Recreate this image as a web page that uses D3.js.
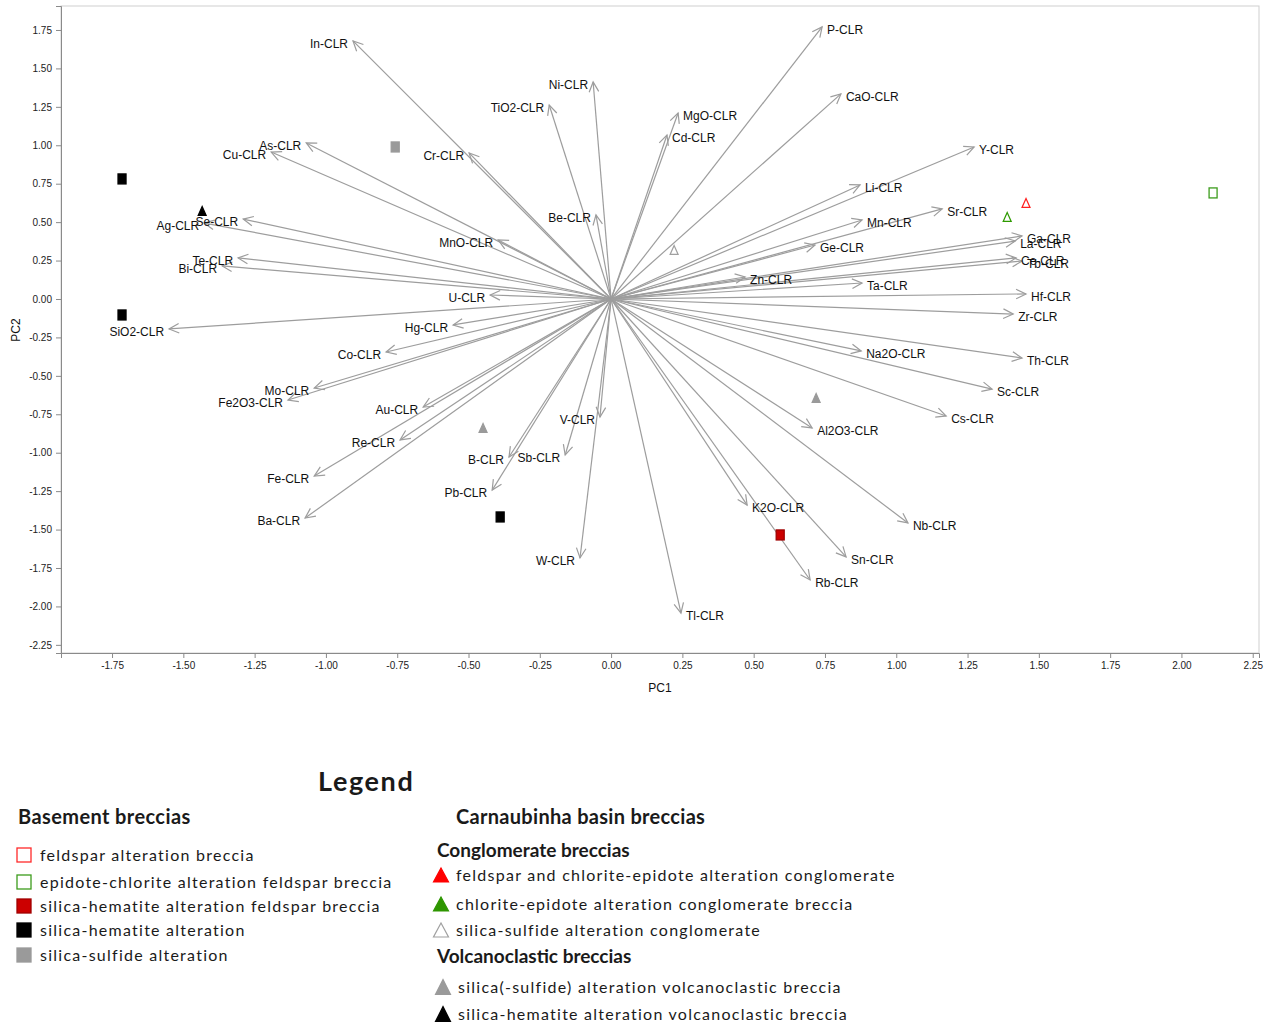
<!DOCTYPE html>
<html>
<head>
<meta charset="utf-8">
<script src="https://cdn.jsdelivr.net/npm/d3@7"></script>
<style>
  body { margin: 0; background: #fff; }
  svg { display: block; }
  .lab { font-family: "Liberation Sans", Arial, sans-serif; font-size: 12px; fill: #111; }
  .tick text { font-family: "Liberation Sans", Arial, sans-serif; font-size: 10px; fill: #222; }
  .leg { font-family: Lato, "Open Sans", sans-serif; fill: #1a1a1a; }
</style>
</head>
<body>
<svg id="chart" width="1278" height="1025"></svg>
<script>
// loading vectors (PC1, PC2) for each CLR-transformed variable
var vars = ["In","Ni","TiO2","P","CaO","MgO","Cd","Y","Cr","As","Cu","Li","Sr","Mn","Ge","Be","MnO",
            "Se","Ag","Te","Bi","U","Ga","La","Ce","Tb","Zn","Ta","Hf","Zr","SiO2","Hg","Co","Mo","Fe2O3",
            "Au","Re","Fe","Ba","B","Sb","V","Pb","W","Tl","K2O","Rb","Sn","Nb","Al2O3","Na2O","Th","Sc","Cs"];
var pc1 = [-0.905,-0.063,-0.217,0.740,0.806,0.235,0.196,1.273,-0.498,-1.069,-1.192,0.873,1.161,0.880,0.715,-0.053,-0.396,
           -1.290,-1.427,-1.308,-1.364,-0.424,1.441,1.417,1.420,1.441,0.470,0.880,1.455,1.410,-1.550,-0.554,-0.789,-1.041,-1.133,
           -0.659,-0.740,-1.041,-1.073,-0.358,-0.161,-0.039,-0.417,-0.109,0.245,0.477,0.698,0.824,1.041,0.705,0.877,1.441,1.336,1.175];
var pc2 = [1.679,1.412,1.262,1.770,1.334,1.210,1.067,0.989,0.950,1.015,0.956,0.742,0.586,0.514,0.351,0.547,0.384,
           0.520,0.494,0.267,0.215,0.026,0.410,0.377,0.267,0.247,0.143,0.104,0.033,-0.098,-0.195,-0.169,-0.345,-0.579,-0.657,
           -0.703,-0.917,-1.152,-1.425,-1.028,-1.015,-0.768,-1.243,-1.685,-2.043,-1.341,-1.828,-1.678,-1.457,-0.839,-0.338,-0.384,-0.586,-0.761];

// sample scores
var sampleType = ["blackSq","blackSq","blackSq","graySq","redSq","greenSqOpen","blackTri","grayTri","grayTri","grayTriOpen","redTriOpen","greenTriOpen"];
var sampleX = [-1.715,-1.715,-0.389,-0.757,0.593,2.111,-1.434,-0.449,0.719,0.221,1.455,1.389];
var sampleY = [0.781,-0.104,-1.418,0.989,-1.535,0.690,0.573,-0.839,-0.644,0.319,0.625,0.534];

var xTicks = d3.range(-1.75, 2.26, 0.25);
var yTicks = d3.range(-2.25, 1.76, 0.25);

// legend contents
var basementLabels = ["feldspar alteration breccia","epidote-chlorite alteration feldspar  breccia",
                      "silica-hematite alteration  feldspar breccia","silica-hematite alteration","silica-sulfide alteration"];
var basementTypes = ["redSqOpen","greenSqOpen","redSq","blackSq","graySq"];
var conglLabels = ["feldspar and  chlorite-epidote alteration conglomerate","chlorite-epidote alteration conglomerate breccia",
                   "silica-sulfide alteration conglomerate"];
var conglTypes = ["redTri","greenTri","grayTriOpen"];
var volcLabels = ["silica(-sulfide) alteration volcanoclastic breccia","silica-hematite alteration volcanoclastic breccia"];
var volcTypes = ["grayTri","blackTri"];

var svg = d3.select("#chart");
var x = d3.scaleLinear().domain([-1.929, 2.272]).range([61, 1259]);
var y = d3.scaleLinear().domain([-2.303, 1.906]).range([653, 6]);
var fmt = function (v) { return d3.format(".2f")(v).replace("\u2212", "-"); };

// frame
svg.append("rect").attr("x", 61).attr("y", 6).attr("width", 1198).attr("height", 647)
    .attr("fill", "none").attr("stroke", "#cfcfcf");

var gx = svg.append("g").attr("transform", "translate(0,653)")
    .call(d3.axisBottom(x).tickValues(xTicks).tickFormat(fmt).tickSize(5).tickPadding(4));
var gy = svg.append("g").attr("transform", "translate(61,0)")
    .call(d3.axisLeft(y).tickValues(yTicks).tickFormat(fmt).tickSize(5).tickPadding(4));
[gx, gy].forEach(function (g) {
    g.selectAll("path, line").attr("stroke", "#8a8a8a");
});

svg.append("text").attr("class", "lab").attr("x", 660).attr("y", 692)
    .attr("text-anchor", "middle").text("PC1");
svg.append("text").attr("class", "lab").attr("transform", "translate(20,330) rotate(-90)")
    .attr("text-anchor", "middle").text("PC2");

// loading arrows
var loads = vars.map(function (v, i) { return { name: v + "-CLR", x: pc1[i], y: pc2[i] }; });
var arrowCol = "#9d9d9d";
var ga = svg.append("g");
loads.forEach(function (d) {
    var x0 = x(0), y0 = y(0), x1 = x(d.x), y1 = y(d.y);
    var ang = Math.atan2(y1 - y0, x1 - x0), L = 11, a = 0.45;
    ga.append("line").attr("x1", x0).attr("y1", y0).attr("x2", x1).attr("y2", y1)
        .attr("stroke", arrowCol).attr("stroke-width", 1.2);
    ga.append("path")
        .attr("d", "M" + (x1 - L * Math.cos(ang - a)) + "," + (y1 - L * Math.sin(ang - a)) +
                   "L" + x1 + "," + y1 +
                   "L" + (x1 - L * Math.cos(ang + a)) + "," + (y1 - L * Math.sin(ang + a)))
        .attr("fill", "none").attr("stroke", arrowCol).attr("stroke-width", 1.2);
});
svg.append("g").selectAll("text").data(loads).enter().append("text")
    .attr("class", "lab")
    .attr("x", function (d) { return x(d.x) + (d.x < 0 ? -5 : 5); })
    .attr("y", function (d) { return y(d.y) + 7; })
    .attr("text-anchor", function (d) { return d.x < 0 ? "end" : "start"; })
    .text(function (d) { return d.name; });

// marker drawing
var styles = {
    blackSq: { shape: "sq", fill: "#000", stroke: "#000" },
    graySq: { shape: "sq", fill: "#9a9a9a", stroke: "#9a9a9a" },
    redSq: { shape: "sq", fill: "#cc0000", stroke: "#a00000" },
    redSqOpen: { shape: "sq", fill: "#fff", stroke: "#ff2a2a" },
    greenSqOpen: { shape: "sq", fill: "#fff", stroke: "#3c9c1c" },
    blackTri: { shape: "tri", fill: "#000", stroke: "#000" },
    grayTri: { shape: "tri", fill: "#9a9a9a", stroke: "#9a9a9a" },
    grayTriOpen: { shape: "tri", fill: "#fff", stroke: "#a0a0a0" },
    redTri: { shape: "tri", fill: "#ff0000", stroke: "#ff0000" },
    greenTri: { shape: "tri", fill: "#2e9600", stroke: "#2e9600" },
    redTriOpen: { shape: "tri", fill: "#fff", stroke: "#ff2020" },
    greenTriOpen: { shape: "tri", fill: "#fff", stroke: "#2e9a00" }
};
function marker(g, type, cx, cy, w, h) {
    var s = styles[type];
    if (s.shape === "sq") {
        g.append("rect").attr("x", cx - w / 2).attr("y", cy - h / 2).attr("width", w).attr("height", h)
            .attr("fill", s.fill).attr("stroke", s.stroke).attr("stroke-width", 1.3);
    } else {
        g.append("path").attr("d", "M" + cx + "," + (cy - h / 2) + "L" + (cx + w / 2) + "," + (cy + h / 2) +
                "L" + (cx - w / 2) + "," + (cy + h / 2) + "Z")
            .attr("fill", s.fill).attr("stroke", s.stroke).attr("stroke-width", 1.2);
    }
}
var gs = svg.append("g");
sampleType.forEach(function (t, i) {
    var sq = styles[t].shape === "sq";
    marker(gs, t, x(sampleX[i]), y(sampleY[i]), 8, sq ? 10 : 9);
});

// legend
var leg = svg.append("g").attr("class", "leg");
leg.append("text").attr("x", 318).attr("y", 791).attr("font-size", 27).attr("letter-spacing", 1.6)
    .attr("font-weight", "bold").text("Legend");
leg.append("text").attr("x", 18).attr("y", 824).attr("font-size", 20).attr("letter-spacing", 0.4)
    .attr("font-weight", "bold").text("Basement breccias");
var basY = [855, 882, 906, 930, 955];
basementLabels.forEach(function (t, i) {
    marker(leg, basementTypes[i], 24, basY[i], 14, 14);
    leg.append("text").attr("x", 40).attr("y", basY[i] + 6).attr("font-size", 16)
        .attr("letter-spacing", 1.25).text(t);
});
leg.append("text").attr("x", 456).attr("y", 824).attr("font-size", 20).attr("letter-spacing", 0.3)
    .attr("font-weight", "bold").text("Carnaubinha basin breccias");
leg.append("text").attr("x", 437).attr("y", 857).attr("font-size", 19).attr("font-weight", "bold").text("Conglomerate breccias");
var conY = [875, 904, 930];
conglLabels.forEach(function (t, i) {
    marker(leg, conglTypes[i], 441, conY[i], 15, 14);
    leg.append("text").attr("x", 456).attr("y", conY[i] + 6).attr("font-size", 16)
        .attr("letter-spacing", 1.25).text(t);
});
leg.append("text").attr("x", 437).attr("y", 963).attr("font-size", 19).attr("font-weight", "bold").text("Volcanoclastic breccias");
var volY = [987, 1014];
volcLabels.forEach(function (t, i) {
    marker(leg, volcTypes[i], 443, volY[i], 15, 15);
    leg.append("text").attr("x", 458).attr("y", volY[i] + 6).attr("font-size", 16)
        .attr("letter-spacing", 1.25).text(t);
});
</script>
</body>
</html>
